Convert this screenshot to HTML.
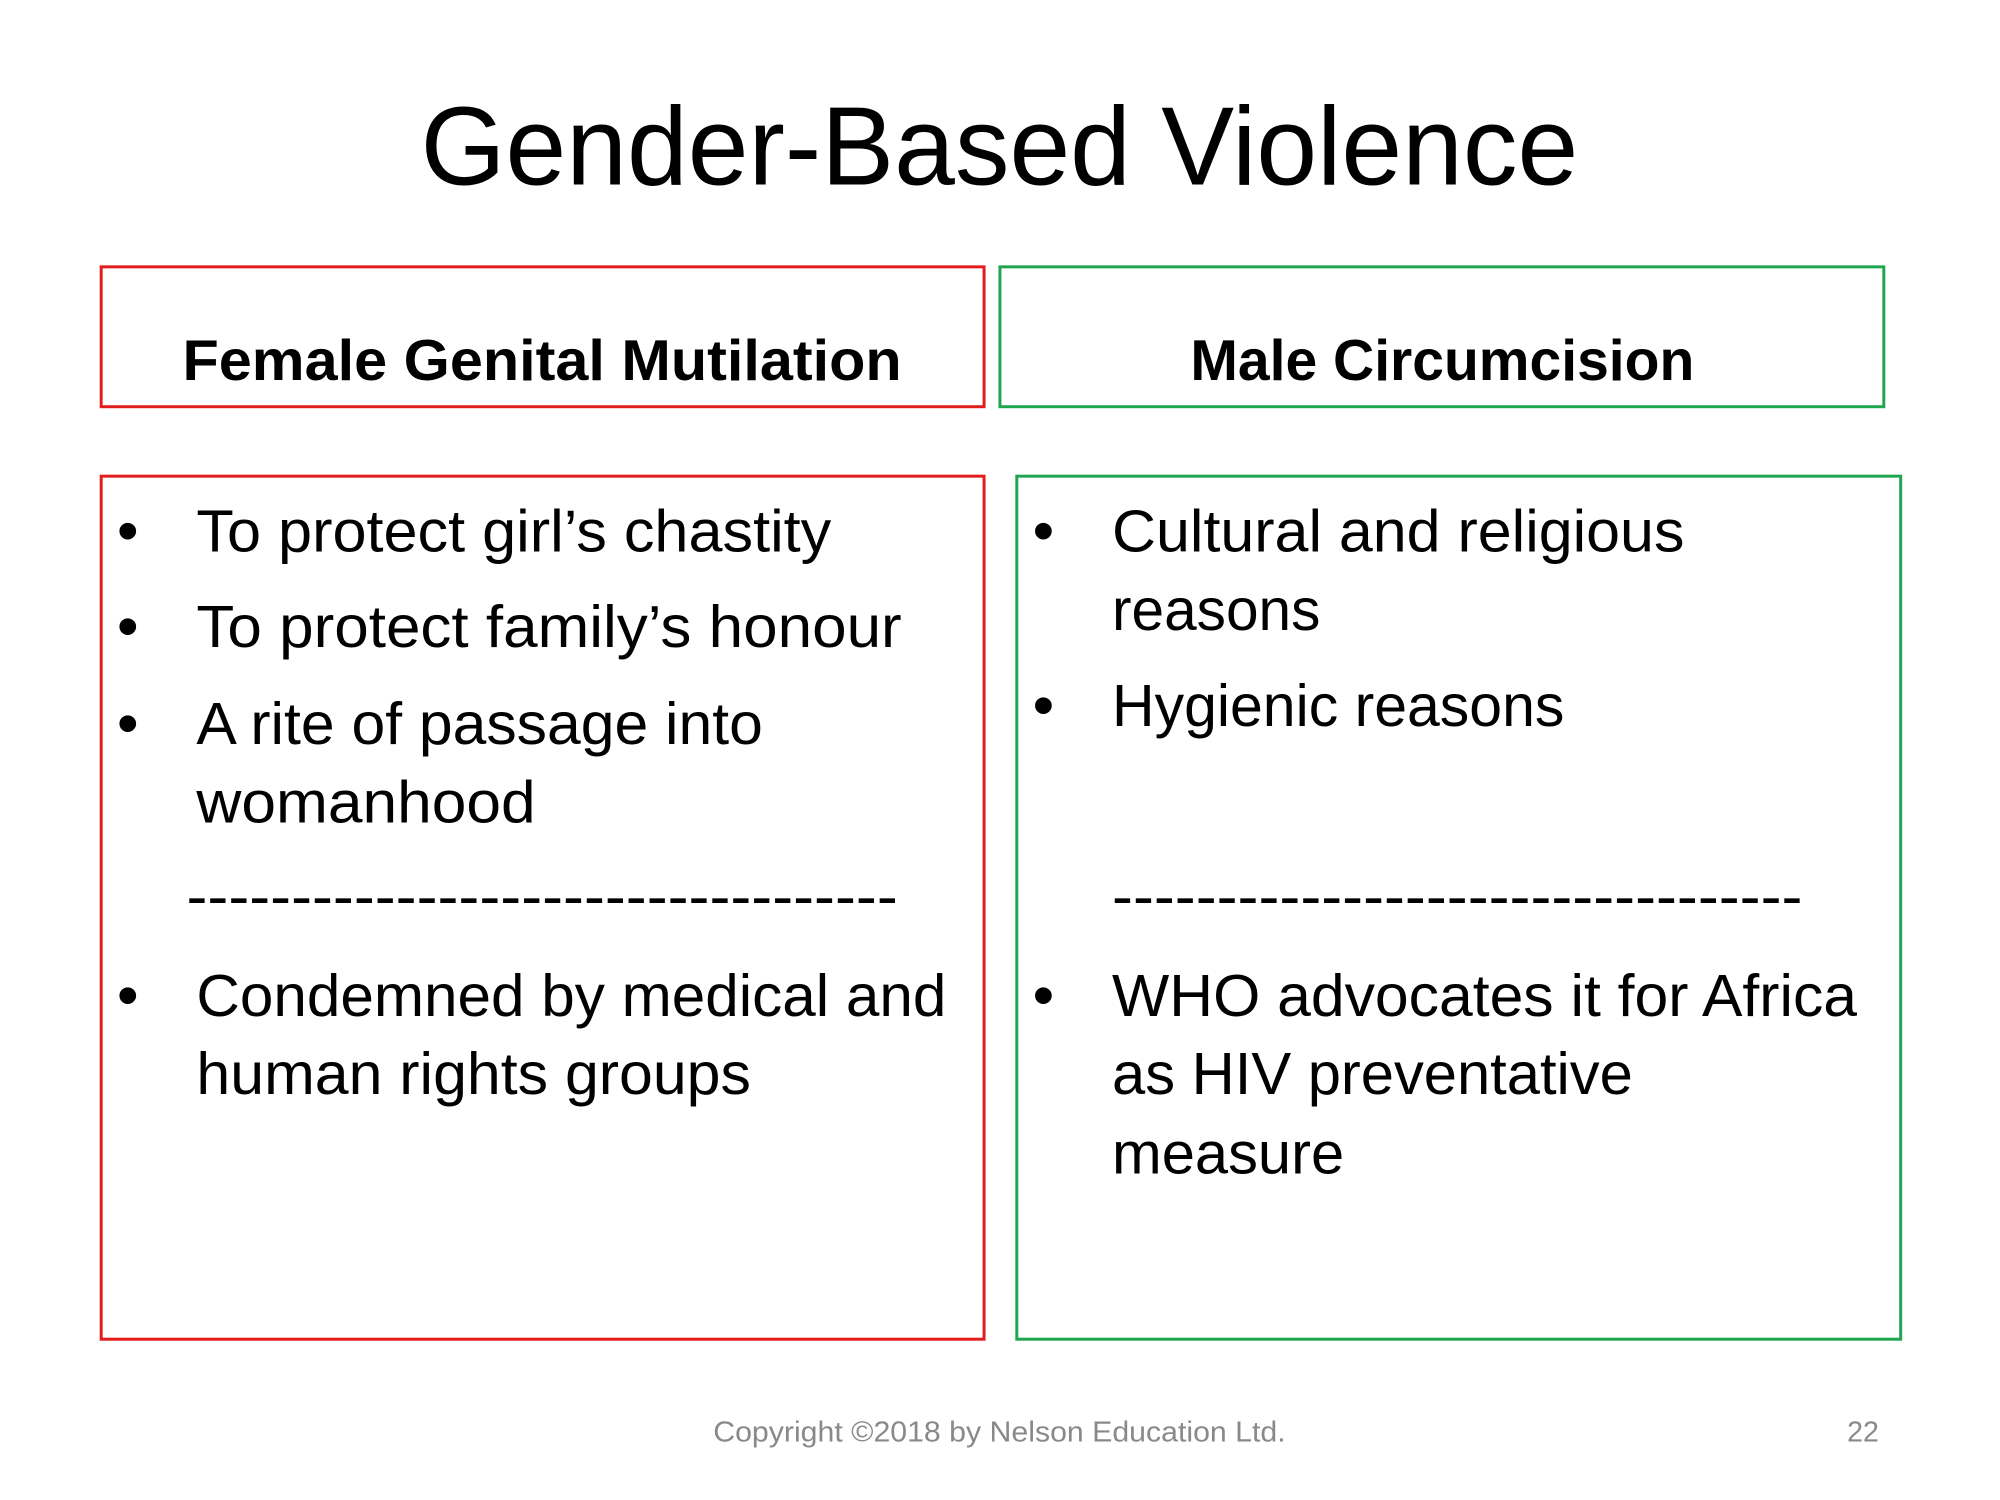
<!DOCTYPE html>
<html><head><meta charset="utf-8"><style>html,body{margin:0;padding:0;background:#fff}svg{display:block}</style></head>
<body>
<svg width="2000" height="1500" viewBox="0 0 2000 1500" font-family="'Liberation Sans', sans-serif">
<rect x="0" y="0" width="2000" height="1500" fill="#fff"/>
<g transform="scale(0.992)">
<text x="424" y="186" font-size="112" textLength="1167" lengthAdjust="spacingAndGlyphs" fill="#000">Gender-Based Violence</text>

<rect x="102" y="269" width="890" height="141" fill="none" stroke="#e21c1c" stroke-width="3"/>
<rect x="1008" y="269" width="891" height="141" fill="none" stroke="#1fa550" stroke-width="3"/>
<text x="184" y="383" font-size="58" font-weight="bold" textLength="725" lengthAdjust="spacingAndGlyphs">Female Genital Mutilation</text>
<text x="1200" y="383" font-size="58" font-weight="bold" textLength="508" lengthAdjust="spacingAndGlyphs">Male Circumcision</text>

<rect x="102" y="480" width="890" height="870" fill="none" stroke="#e21c1c" stroke-width="3"/>
<rect x="1025" y="480" width="891" height="870" fill="none" stroke="#1fa550" stroke-width="3"/>

<g font-size="60" fill="#000">
<text x="118" y="556" font-size="62">•</text>
<text x="198" y="556" textLength="640" lengthAdjust="spacingAndGlyphs">To protect girl’s chastity</text>
<text x="118" y="652" font-size="62">•</text>
<text x="198" y="652" textLength="711" lengthAdjust="spacingAndGlyphs">To protect family’s honour</text>
<text x="118" y="750" font-size="62">•</text>
<text x="198" y="750" textLength="571" lengthAdjust="spacingAndGlyphs">A rite of passage into</text>
<text x="198" y="829" textLength="342" lengthAdjust="spacingAndGlyphs">womanhood</text>
<text x="188" y="924" textLength="717" lengthAdjust="spacingAndGlyphs">----------------------------------</text>
<text x="118" y="1024" font-size="62">•</text>
<text x="198" y="1024" textLength="756" lengthAdjust="spacingAndGlyphs">Condemned by medical and</text>
<text x="198" y="1103" textLength="559" lengthAdjust="spacingAndGlyphs">human rights groups</text>
</g>

<g font-size="60" fill="#000">
<text x="1041" y="556" font-size="62">•</text>
<text x="1121" y="556" textLength="577" lengthAdjust="spacingAndGlyphs">Cultural and religious</text>
<text x="1121" y="635" textLength="210" lengthAdjust="spacingAndGlyphs">reasons</text>
<text x="1041" y="732" font-size="62">•</text>
<text x="1121" y="732" textLength="456" lengthAdjust="spacingAndGlyphs">Hygienic reasons</text>
<text x="1121" y="924" textLength="696" lengthAdjust="spacingAndGlyphs">---------------------------------</text>
<text x="1041" y="1024" font-size="62">•</text>
<text x="1121" y="1024" textLength="751" lengthAdjust="spacingAndGlyphs">WHO advocates it for Africa</text>
<text x="1121" y="1103" textLength="525" lengthAdjust="spacingAndGlyphs">as HIV preventative</text>
<text x="1121" y="1183" textLength="234" lengthAdjust="spacingAndGlyphs">measure</text>
</g>

<text x="719" y="1453" font-size="29" fill="#898989" textLength="577" lengthAdjust="spacingAndGlyphs">Copyright ©2018 by Nelson Education Ltd.</text>
<text x="1862" y="1453" font-size="29" fill="#898989" textLength="32" lengthAdjust="spacingAndGlyphs">22</text>
</g>
</svg>
</body></html>
